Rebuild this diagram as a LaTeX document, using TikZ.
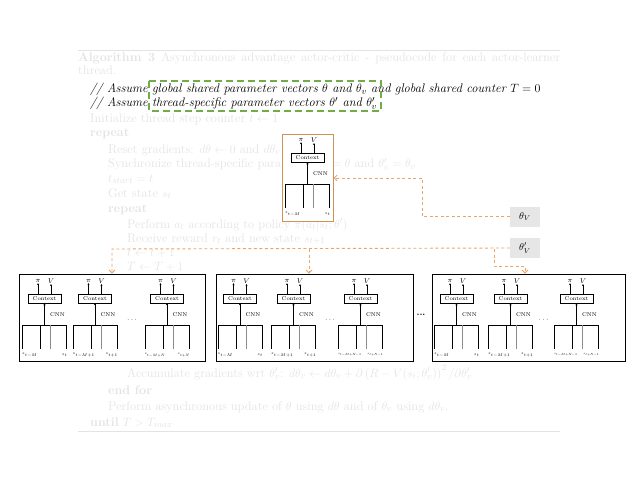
\documentclass[tikz,border=0pt]{standalone}
\usetikzlibrary{arrows.meta}
\definecolor{fadec}{gray}{0.89}
\definecolor{odash}{RGB}{235,165,105}
\definecolor{oborder}{RGB}{205,145,85}
\definecolor{gdash}{RGB}{112,173,71}
\definecolor{thfill}{RGB}{231,230,230}
\newcommand\algfont{\fontsize{12.5}{15}\selectfont}
\tikzset{
  faded/.style={anchor=base west, inner sep=0, text=fadec, font=\algfont},
  algline/.style={anchor=base west, inner sep=0, font=\algfont\itshape},
  pvlab/.style={inner sep=0.5pt, font=\fontsize{7}{7}\selectfont},
  ctxbox/.style={draw, line width=0.5pt, minimum width=33pt, minimum height=9pt, inner sep=0, font=\fontsize{5.5}{5.5}\selectfont},
  cnnlab/.style={inner sep=0, font=\fontsize{5.5}{5.5}\selectfont},
  flab/.style={inner sep=0, font=\fontsize{5}{5}\selectfont},
  minitip/.style={line width=0.5pt, -{Stealth[length=2pt,width=2pt]}},
  frameline/.style={line width=0.6pt},
  bigbox/.style={draw, fill=white, line width=0.8pt, inner sep=0},
  netbox/.style={draw=oborder, fill=white, line width=1pt, inner sep=0},
  thbox/.style={fill=thfill, inner sep=0, minimum width=30pt, minimum height=20pt, font=\fontsize{10}{10}\selectfont},
  odashed/.style={draw=odash, line width=0.9pt, dash pattern=on 3pt off 2.5pt, -{Straight Barb[length=3pt,width=6pt]}},
  gdashed/.style={draw=gdash, line width=1.3pt, dash pattern=on 7pt off 4pt}
}
% #1 name, #2 cx, #3 y0, #4 left label, #5 right label
\newcommand\subnetw[5]{%
\begin{scope}[shift={(#2,#3)}]
  \node[pvlab] (#1pi) at (-6.5,0) {$\pi$};
  \node[pvlab] (#1v) at (6.5,0) {$V$};
  \node[ctxbox] (#1ctx) at (0,17.5) {Context};
  \draw[minitip] (#1ctx.north -| #1pi) -- (#1pi.south);
  \draw[minitip] (#1ctx.north -| #1v) -- (#1v.south);
  \coordinate (#1in) at (0,44);
  \draw[minitip] (#1in) -- (#1ctx.south);
  \node[cnnlab] (#1cnn) at (13,33.5) {CNN};
  \draw[frameline] (-22,44) -- (22,44);
  \draw[frameline] (-22,44) -- (-22,68);
  \draw[frameline] (-4,44) -- (-4,68);
  \draw[frameline, black!45] (6,44) -- (6,68);
  \draw[frameline] (22,44) -- (22,68);
  \node[flab, anchor=west] (#1l) at (-22.5,74) {\scalebox{0.8}{#4}};
  \node[flab, anchor=east] (#1r) at (23,74) {\scalebox{0.8}{#5}};
\end{scope}}
\begin{document}
\begin{tikzpicture}[x=1pt,y=-1pt]
\useasboundingbox (0,0) rectangle (638,479);
% faded algorithm background
\draw[fadec, line width=0.8pt] (78,50) -- (560,50);
\draw[fadec, line width=0.5pt] (78,431) -- (560,431);
\node[faded] (cap1) at (78,61) {\makebox[482pt][s]{\textbf{Algorithm 3} Asynchronous advantage actor-critic - pseudocode for each actor-learner}};
\node[faded] (cap2) at (78,74) {thread.};
\node[faded] (f1) at (90,122) {Initialize thread step counter $t \gets 1$};
\node[faded] (f2) at (90,136) {\textbf{repeat}};
\node[faded] (f3) at (108,153) {Reset gradients: $d\theta \gets 0$ and $d\theta_v$};
\node[faded] (f4a) at (108,167.5) {Synchronize thread-specific para};
\node[faded, anchor=base east] (f4b) at (416,167.5) {$=\theta$ and $\theta'_v = \theta_v$};
\node[faded] (f5) at (108,182) {$t_{start} = t$};
\node[faded] (f6) at (108,197) {Get state $s_t$};
\node[faded] (f7) at (108,212) {\textbf{repeat}};
\node[faded] (f8) at (127,228) {Perform $a_t$ according to policy $\pi(a_t|s_t;\theta')$};
\node[faded] (f9) at (127,242) {Receive reward $r_t$ and new state $s_{t+1}$};
\node[faded] (f10) at (127,256) {$t \gets t+1$};
\node[faded] (f11) at (127,270) {$T \gets T+1$};
\node[faded] (f17) at (127,377) {Accumulate gradients wrt $\theta'_v$: $d\theta_v \gets d\theta_v + \partial\left(R-V(s_i;\theta'_v)\right)^2/\partial\theta'_v$};
\node[faded] (f18) at (108,394) {\textbf{end for}};
\node[faded] (f19) at (108,410) {Perform asynchronous update of $\theta$ using $d\theta$ and of $\theta_v$ using $d\theta_v$.};
\node[faded] (f20) at (90,426) {\textbf{until} $T > T_{max}$};
% highlighted comment lines
\node[algline] (l1) at (90,92.5) {// Assume global shared parameter vectors $\theta$ and $\theta_v$ and global shared counter $T=0$};
\node[algline] (l2) at (90,106.5) {// Assume thread-specific parameter vectors $\theta'$ and $\theta'_v$};
\coordinate (g1) at (149,81);
\coordinate (g2) at (381,111);
\draw[gdashed] (g1) rectangle (g2);
% single network
\node[netbox, minimum width=51pt, minimum height=87pt] (net) at (307.5,177.5) {};
\subnetw{n0}{307.5}{140}{$s_{t-M}$}{$s_t$}
% parameter boxes
\node[thbox] (thv) at (525,216.5) {$\theta_V$};
\node[thbox] (thpv) at (525,248) {$\theta'_V$};
% big boxes
\node[bigbox, minimum width=186pt, minimum height=87pt] (box1) at (112,317.5) {};
\node[bigbox, minimum width=197pt, minimum height=87pt] (box2) at (314.5,317.5) {};
\node[bigbox, minimum width=193pt, minimum height=87pt] (box3) at (528.5,317.5) {};
\subnetw{a1}{44.5}{281}{$s_{t-M}$}{$s_t$}
\subnetw{a2}{95}{281}{$s_{t-M+1}$}{$s_{t+1}$}
\subnetw{a3}{167}{281}{\scalebox{0.85}{$s_{t-M+N}$}}{\scalebox{0.85}{$s_{t+N}$}}
\node[inner sep=0, font=\fontsize{7}{7}\selectfont] (ad) at (132,320) {$\cdots$};
\subnetw{b1}{240}{281}{$s_{t-M}$}{$s_t$}
\subnetw{b2}{293.5}{281}{$s_{t-M+1}$}{$s_{t+1}$}
\subnetw{b3}{360.5}{281}{\scalebox{0.75}{$s_{t-M+N-1}$}}{\scalebox{0.75}{$s_{t+N-1}$}}
\node[inner sep=0, font=\fontsize{7}{7}\selectfont] (bd) at (330,320) {$\cdots$};
\subnetw{c1}{456.5}{281}{$s_{t-M}$}{$s_t$}
\subnetw{c2}{510.5}{281}{$s_{t-M+1}$}{$s_{t+1}$}
\subnetw{c3}{576.5}{281}{\scalebox{0.75}{$s_{t-M+N-1}$}}{\scalebox{0.75}{$s_{t+N-1}$}}
\node[inner sep=0, font=\fontsize{7}{7}\selectfont] (cd) at (543.5,320) {$\cdots$};
\node[inner sep=0, font=\fontsize{9}{9}\selectfont] (bigdots) at (421,315) {\textbf{...}};
% connectors
\coordinate (p1) at (422,216.5);
\coordinate (p2) at (422,178);
\draw[odashed] (thv.west) -- (p1) -- (p2) -- (net.east |- p2);
\coordinate (q1) at (112,249);
\coordinate (q2) at (309,249);
\coordinate (q3) at (494,249);
\coordinate (q4) at (494,266);
\coordinate (q5) at (525,266);
\draw[odashed] (thpv.west) -- (q1) -- (box1.north -| q1);
\draw[odashed] (q2) -- (box2.north -| q2);
\draw[odashed] (q3) -- (q4) -- (q5) -- (box3.north -| q5);
\end{tikzpicture}
\end{document}
